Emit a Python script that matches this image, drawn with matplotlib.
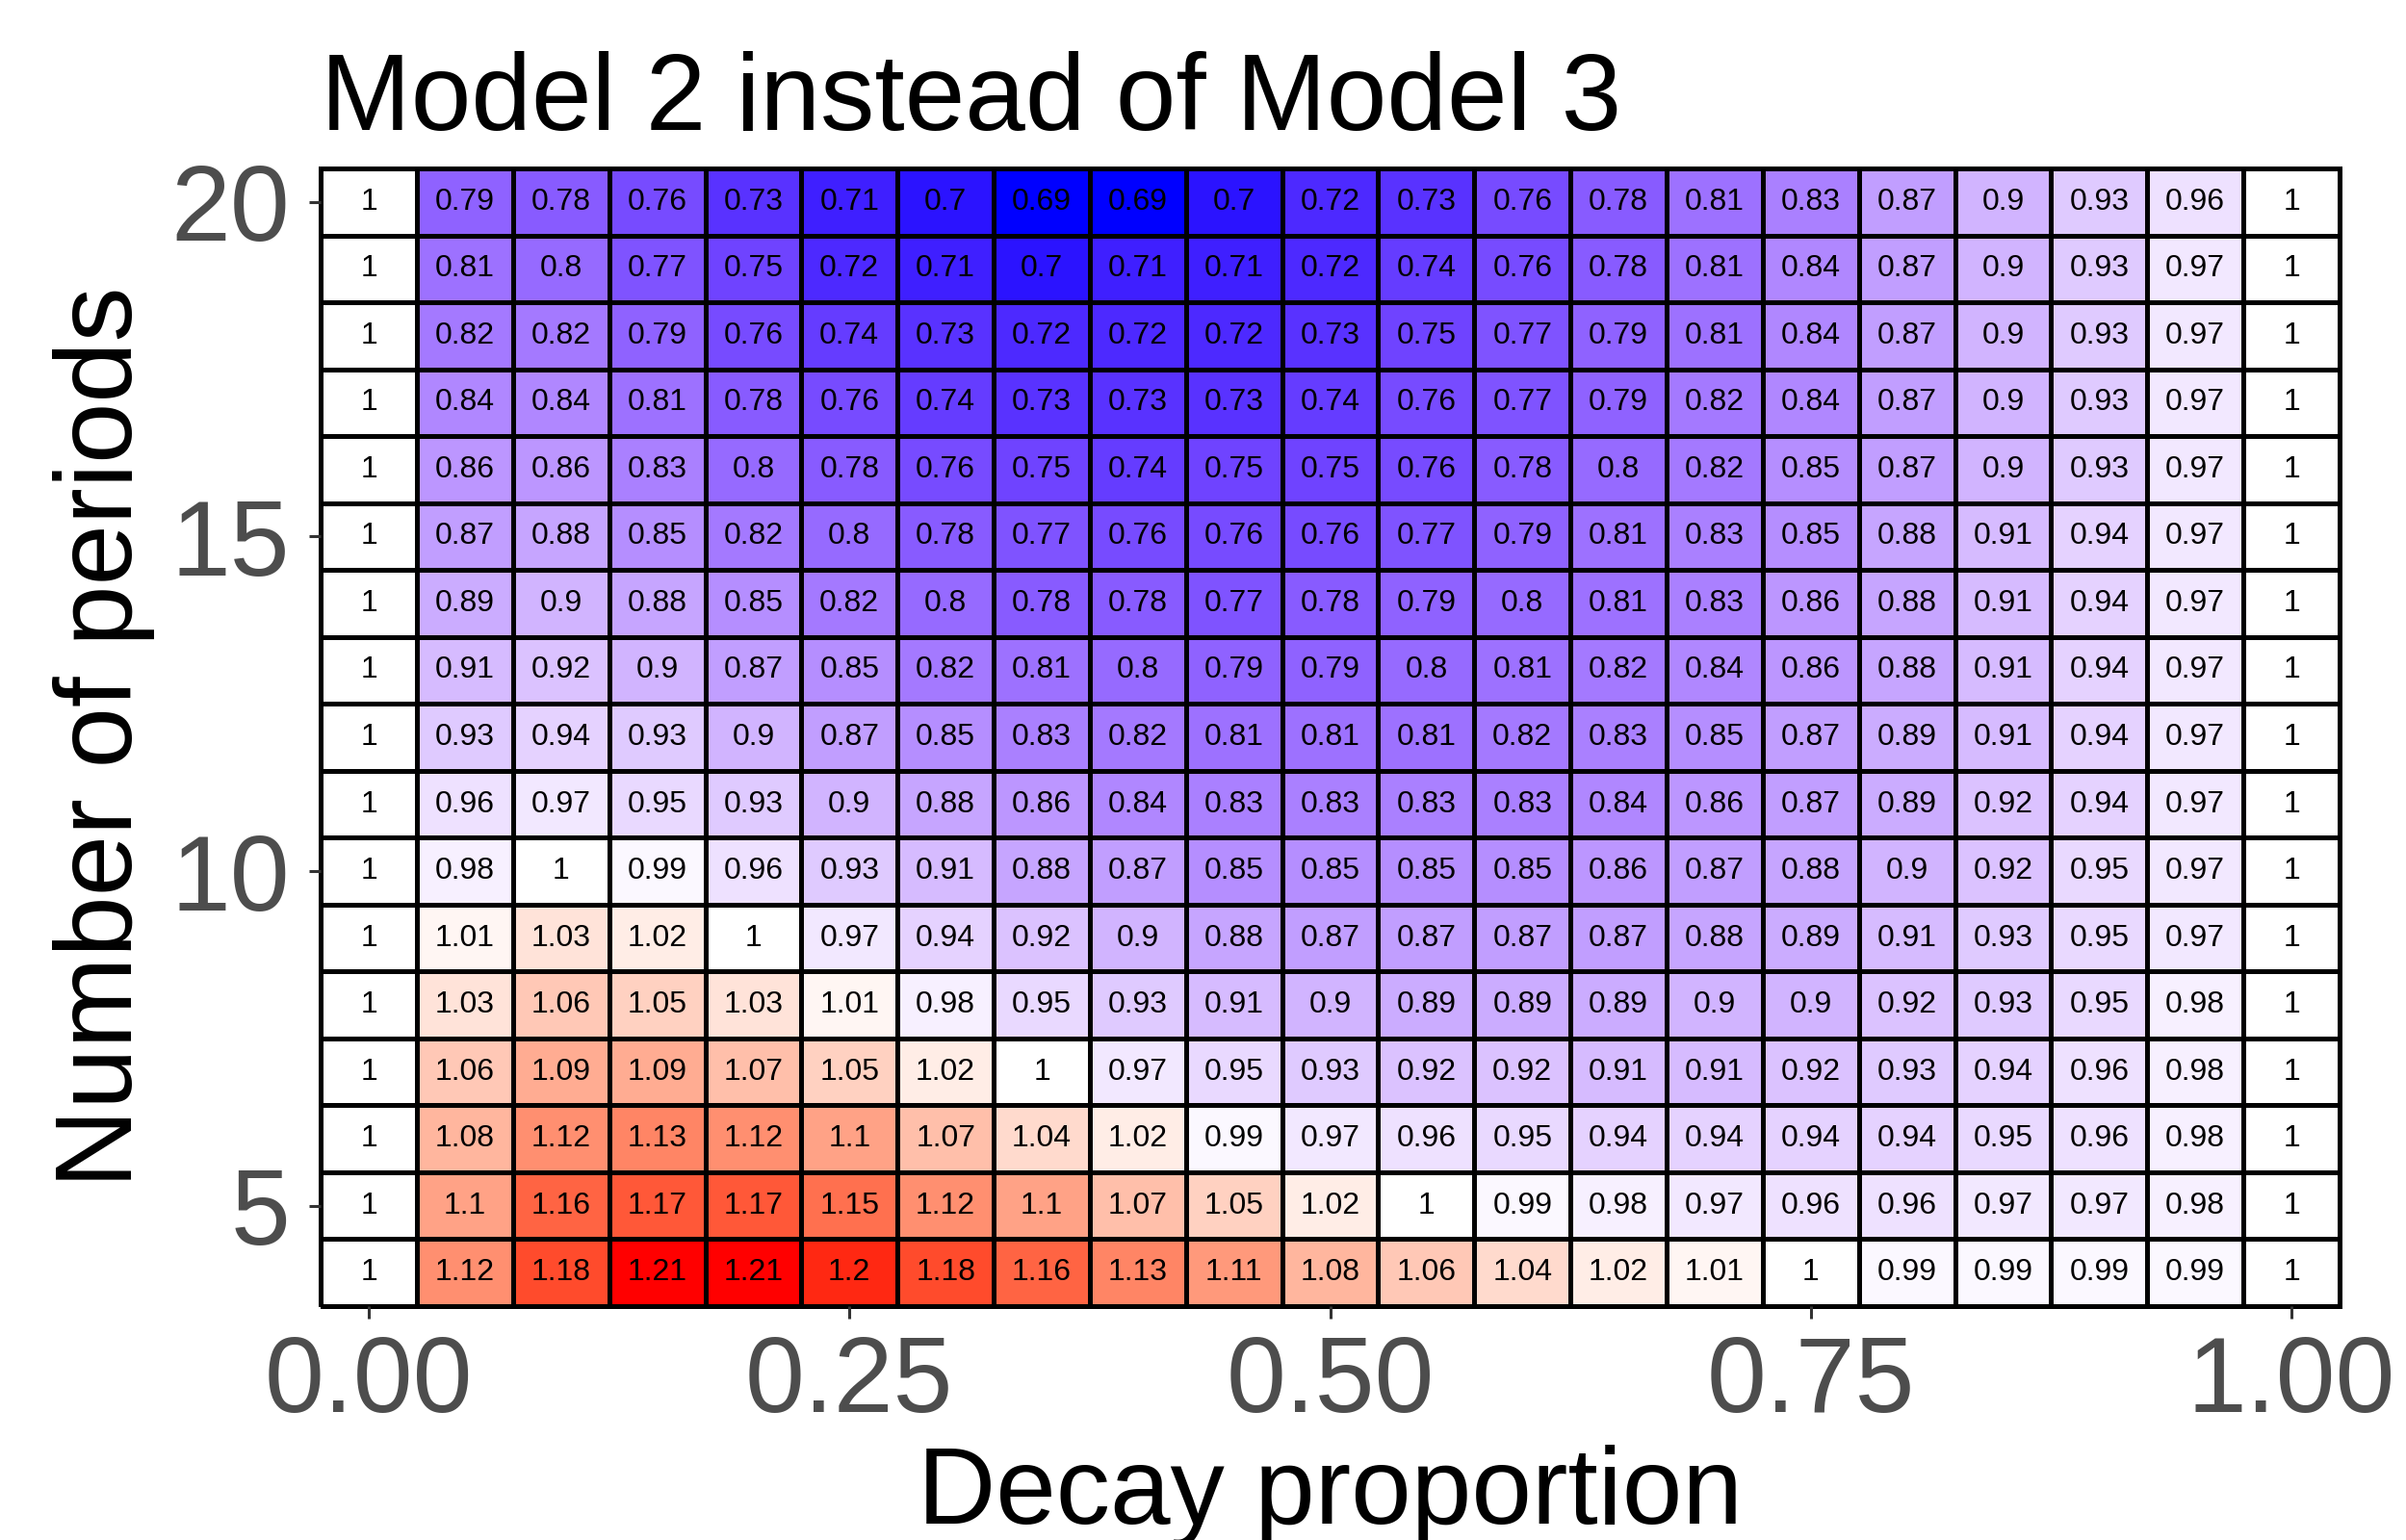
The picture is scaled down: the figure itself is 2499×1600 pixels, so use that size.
import matplotlib
matplotlib.use("Agg")
import matplotlib.pyplot as plt
import numpy as np
from matplotlib.colors import ListedColormap, TwoSlopeNorm

# decay proportion (columns) and number of periods (rows, top = 20)
decay = [round(0.05 * i, 2) for i in range(21)]
periods = list(range(20, 3, -1))

ratio = [
    [1, 0.79, 0.78, 0.76, 0.73, 0.71, 0.7, 0.69, 0.69, 0.7, 0.72, 0.73, 0.76, 0.78, 0.81, 0.83, 0.87, 0.9, 0.93, 0.96, 1],
    [1, 0.81, 0.8, 0.77, 0.75, 0.72, 0.71, 0.7, 0.71, 0.71, 0.72, 0.74, 0.76, 0.78, 0.81, 0.84, 0.87, 0.9, 0.93, 0.97, 1],
    [1, 0.82, 0.82, 0.79, 0.76, 0.74, 0.73, 0.72, 0.72, 0.72, 0.73, 0.75, 0.77, 0.79, 0.81, 0.84, 0.87, 0.9, 0.93, 0.97, 1],
    [1, 0.84, 0.84, 0.81, 0.78, 0.76, 0.74, 0.73, 0.73, 0.73, 0.74, 0.76, 0.77, 0.79, 0.82, 0.84, 0.87, 0.9, 0.93, 0.97, 1],
    [1, 0.86, 0.86, 0.83, 0.8, 0.78, 0.76, 0.75, 0.74, 0.75, 0.75, 0.76, 0.78, 0.8, 0.82, 0.85, 0.87, 0.9, 0.93, 0.97, 1],
    [1, 0.87, 0.88, 0.85, 0.82, 0.8, 0.78, 0.77, 0.76, 0.76, 0.76, 0.77, 0.79, 0.81, 0.83, 0.85, 0.88, 0.91, 0.94, 0.97, 1],
    [1, 0.89, 0.9, 0.88, 0.85, 0.82, 0.8, 0.78, 0.78, 0.77, 0.78, 0.79, 0.8, 0.81, 0.83, 0.86, 0.88, 0.91, 0.94, 0.97, 1],
    [1, 0.91, 0.92, 0.9, 0.87, 0.85, 0.82, 0.81, 0.8, 0.79, 0.79, 0.8, 0.81, 0.82, 0.84, 0.86, 0.88, 0.91, 0.94, 0.97, 1],
    [1, 0.93, 0.94, 0.93, 0.9, 0.87, 0.85, 0.83, 0.82, 0.81, 0.81, 0.81, 0.82, 0.83, 0.85, 0.87, 0.89, 0.91, 0.94, 0.97, 1],
    [1, 0.96, 0.97, 0.95, 0.93, 0.9, 0.88, 0.86, 0.84, 0.83, 0.83, 0.83, 0.83, 0.84, 0.86, 0.87, 0.89, 0.92, 0.94, 0.97, 1],
    [1, 0.98, 1, 0.99, 0.96, 0.93, 0.91, 0.88, 0.87, 0.85, 0.85, 0.85, 0.85, 0.86, 0.87, 0.88, 0.9, 0.92, 0.95, 0.97, 1],
    [1, 1.01, 1.03, 1.02, 1, 0.97, 0.94, 0.92, 0.9, 0.88, 0.87, 0.87, 0.87, 0.87, 0.88, 0.89, 0.91, 0.93, 0.95, 0.97, 1],
    [1, 1.03, 1.06, 1.05, 1.03, 1.01, 0.98, 0.95, 0.93, 0.91, 0.9, 0.89, 0.89, 0.89, 0.9, 0.9, 0.92, 0.93, 0.95, 0.98, 1],
    [1, 1.06, 1.09, 1.09, 1.07, 1.05, 1.02, 1, 0.97, 0.95, 0.93, 0.92, 0.92, 0.91, 0.91, 0.92, 0.93, 0.94, 0.96, 0.98, 1],
    [1, 1.08, 1.12, 1.13, 1.12, 1.1, 1.07, 1.04, 1.02, 0.99, 0.97, 0.96, 0.95, 0.94, 0.94, 0.94, 0.94, 0.95, 0.96, 0.98, 1],
    [1, 1.1, 1.16, 1.17, 1.17, 1.15, 1.12, 1.1, 1.07, 1.05, 1.02, 1, 0.99, 0.98, 0.97, 0.96, 0.96, 0.97, 0.97, 0.98, 1],
    [1, 1.12, 1.18, 1.21, 1.21, 1.2, 1.18, 1.16, 1.13, 1.11, 1.08, 1.06, 1.04, 1.02, 1.01, 1, 0.99, 0.99, 0.99, 0.99, 1],
]

x_ticks = [0.0, 0.25, 0.5, 0.75, 1.0]
x_ticklabels = ["0.00", "0.25", "0.50", "0.75", "1.00"]
y_ticks = [5, 10, 15, 20]


# ggplot-like gradient2: interpolate in CIE Lab between blue, white and red
def srgb_to_lab(rgb):
    c = np.asarray(rgb, dtype=float)
    lin = np.where(c <= 0.04045, c / 12.92, ((c + 0.055) / 1.055) ** 2.4)
    m = np.array([[0.4124, 0.3576, 0.1805],
                  [0.2126, 0.7152, 0.0722],
                  [0.0193, 0.1192, 0.9505]])
    xyz = m @ lin / np.array([0.95047, 1.0, 1.08883])
    f = np.where(xyz > 0.008856, np.cbrt(xyz), 7.787 * xyz + 16 / 116)
    return np.array([116 * f[1] - 16, 500 * (f[0] - f[1]), 200 * (f[1] - f[2])])


def lab_to_srgb(lab):
    L, a, b = lab
    fy = (L + 16) / 116
    fx = fy + a / 500
    fz = fy - b / 200
    f = np.array([fx, fy, fz])
    xyz = np.where(f ** 3 > 0.008856, f ** 3, (f - 16 / 116) / 7.787)
    xyz = xyz * np.array([0.95047, 1.0, 1.08883])
    minv = np.array([[3.2406, -1.5372, -0.4986],
                     [-0.9689, 1.8758, 0.0415],
                     [0.0557, -0.2040, 1.0570]])
    lin = minv @ xyz
    lin = np.clip(lin, 0, 1)
    c = np.where(lin <= 0.0031308, 12.92 * lin, 1.055 * lin ** (1 / 2.4) - 0.055)
    return np.clip(c, 0, 1)


def lab_ramp(c0, c1, n):
    l0, l1 = srgb_to_lab(c0), srgb_to_lab(c1)
    return [lab_to_srgb(l0 + (l1 - l0) * t) for t in np.linspace(0, 1, n)]


cols = lab_ramp((0, 0, 1), (1, 1, 1), 256) + lab_ramp((1, 1, 1), (1, 0, 0), 256)[1:]
cmap = ListedColormap(cols)

Z = np.array(ratio)
norm = TwoSlopeNorm(vmin=Z.min(), vcenter=1.0, vmax=Z.max())

plt.rcParams["font.family"] = ["Liberation Sans", "DejaVu Sans"]

fig = plt.figure(figsize=(24.99, 16), dpi=100)
ax = fig.add_axes([0.1333, 0.1519, 0.8391, 0.7387])

dx = 0.05
xe = np.arange(len(decay) + 1) * dx - dx / 2
ye = np.arange(periods[-1] - 0.5, periods[0] + 1.5, 1.0)
ax.pcolormesh(xe, ye, Z[::-1], cmap=cmap, norm=norm,
              edgecolors="black", linewidth=3.4, clip_on=False)

for i, p in enumerate(periods):
    for j, d in enumerate(decay):
        ax.text(d, p, f"{ratio[i][j]:g}", ha="center", va="center",
                fontsize=23, color="black")

ax.set_xlim(xe[0], xe[-1])
ax.set_ylim(ye[0], ye[-1])
ax.set_xticks(x_ticks)
ax.set_xticklabels(x_ticklabels)
ax.set_yticks(y_ticks)
ax.tick_params(axis="both", labelsize=80, labelcolor="#4D4D4D", color="#333333",
               length=9, width=2.2)
ax.tick_params(axis="x", pad=12)
ax.tick_params(axis="y", pad=14)
for s in ax.spines.values():
    s.set_visible(False)

ax.set_xlabel("Decay proportion", fontsize=81, labelpad=8)
ax.set_ylabel("Number of periods", fontsize=82, labelpad=12)

fig.text(0.1333, 1 - 135 / 1600, "Model 2 instead of Model 3", fontsize=81,
         ha="left", va="baseline")

fig.savefig("out.png", dpi=100)
